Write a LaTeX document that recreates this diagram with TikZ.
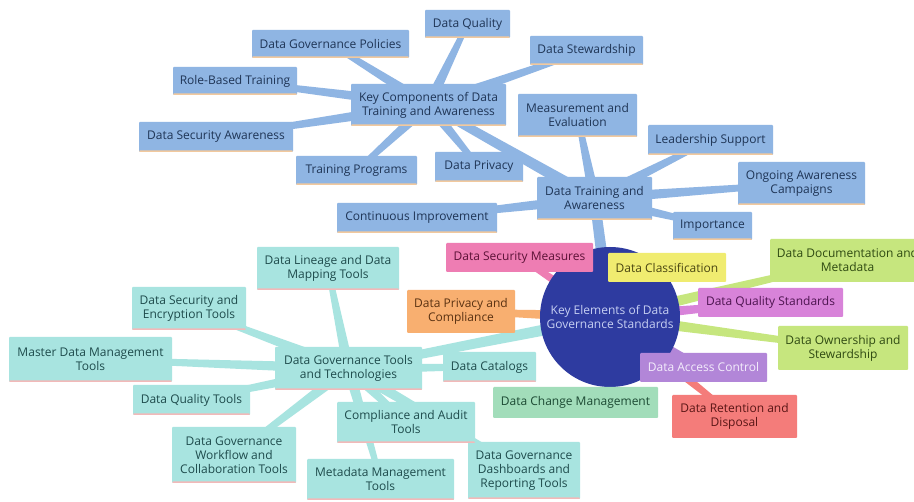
\documentclass[tikz,border=0pt]{standalone}
\usepackage{fontspec}
\setmainfont{Open Sans}
\usetikzlibrary{calc,backgrounds}
\definecolor{bluefill}{HTML}{8FB5E3}
\definecolor{bluetext}{HTML}{1F3556}
\definecolor{peach}{HTML}{F2C99E}
\definecolor{cyanfill}{HTML}{A8E4E0}
\definecolor{cyantext}{HTML}{1E4B4C}
\definecolor{cyanline}{HTML}{F2B9B9}
\definecolor{pinkfill}{HTML}{EE7DB3}
\definecolor{pinktext}{HTML}{5C1237}
\definecolor{yellowfill}{HTML}{F0EC70}
\definecolor{yellowtext}{HTML}{4A4612}
\definecolor{greenfill}{HTML}{C6E67E}
\definecolor{greentext}{HTML}{2F4A12}
\definecolor{orchidfill}{HTML}{D883D9}
\definecolor{orchidtext}{HTML}{4D1450}
\definecolor{purplefill}{HTML}{B286D8}
\definecolor{purpletext}{HTML}{F3ECFB}
\definecolor{salmonfill}{HTML}{F47C7A}
\definecolor{salmontext}{HTML}{5A1616}
\definecolor{mintfill}{HTML}{A2DDBA}
\definecolor{minttext}{HTML}{1C4A33}
\definecolor{orangefill}{HTML}{F8AF70}
\definecolor{orangetext}{HTML}{5A3212}
\definecolor{circlefill}{HTML}{2E3BA0}
\definecolor{circletext}{HTML}{C6CFF2}
\newcommand\tlink[5]{%
  \fill[#1] let \p1=(#2.center), \p2=(#3.center), \n1={atan2(\y2-\y1,\x2-\x1)} in
    ($(\p1)+(\n1+90:#4)$) -- ($(\p2)+(\n1+90:#5)$) -- ($(\p2)+(\n1-90:#5)$) -- ($(\p1)+(\n1-90:#4)$) -- cycle;}
\tikzset{
  sz/.style 2 args={minimum width=#1pt, minimum height=#2pt},
  mapbox/.style={rectangle, rounded corners=1pt, inner sep=0pt, align=center,
    font=\fontsize{12}{14}\selectfont},
  botline/.style={path picture={\fill[#1] (path picture bounding box.south west) rectangle ([yshift=1.5pt]path picture bounding box.south east);}},
  bbox/.style={mapbox, fill=bluefill, text=bluetext, botline=peach},
  cbox/.style={mapbox, fill=cyanfill, text=cyantext, botline=cyanline},
  pinkbox/.style={mapbox, fill=pinkfill, text=pinktext},
  yellowbox/.style={mapbox, fill=yellowfill, text=yellowtext},
  greenbox/.style={mapbox, fill=greenfill, text=greentext},
  orchidbox/.style={mapbox, fill=orchidfill, text=orchidtext},
  purplebox/.style={mapbox, fill=purplefill, text=purpletext},
  salmonbox/.style={mapbox, fill=salmonfill, text=salmontext},
  mintbox/.style={mapbox, fill=mintfill, text=minttext},
  orangebox/.style={mapbox, fill=orangefill, text=orangetext},
}
\begin{document}
\begin{tikzpicture}[x=1pt, y=-1pt]
\path[use as bounding box, clip] (0,0) rectangle (914,502);
% root circle
\node[circle, fill=circlefill, text=circletext, minimum size=140pt, inner sep=0pt, align=center,
  font=\fontsize{12}{14}\selectfont] (kes) at (610,317) {Key Elements of Data\\Governance Standards};
% blue branch
\node[bbox, sz={85}{28}] (dq) at (467.5,24) {Data Quality};
\node[bbox, sz={157}{28}] (dgp) at (330.5,44) {Data Governance Policies};
\node[bbox, sz={113}{29}] (ds) at (586.5,50.5) {Data Stewardship};
\node[bbox, sz={124}{28}] (rbt) at (235,81) {Role-Based Training};
\node[bbox, sz={155}{42}] (kc) at (428.5,105) {Key Components of Data\\Training and Awareness};
\node[bbox, sz={119}{43}] (me) at (577.5,115.5) {Measurement and\\Evaluation};
\node[bbox, sz={154}{30}] (dsa) at (216,137) {Data Security Awareness};
\node[bbox, sz={121}{29}] (tp) at (356.5,170.5) {Training Programs};
\node[bbox, sz={88}{30}] (dp) at (479,167) {Data Privacy};
\node[bbox, sz={125}{30}] (ls) at (710.5,140) {Leadership Support};
\node[bbox, sz={115}{43}] (dta) at (594.5,198.5) {Data Training and\\Awareness};
\node[bbox, sz={127}{43}] (oac) at (801.5,183.5) {Ongoing Awareness\\Campaigns};
\node[bbox, sz={160}{30}] (ci) at (417,218) {Continuous Improvement};
\node[bbox, sz={79}{28}] (imp) at (712.5,226) {Importance};
% coloured leaves
\node[pinkbox, sz={147}{29}] (dsm) at (519.5,257.5) {Data Security Measures};
\node[yellowbox, sz={118}{29}] (dcl) at (667,267.5) {Data Classification};
\node[greenbox, sz={155}{43}] (ddm) at (847.5,260.5) {Data Documentation and\\Metadata};
\node[orchidbox, sz={145}{29}] (dqs) at (770.5,302.5) {Data Quality Standards};
\node[orangebox, sz={108}{43}] (dpc) at (461,311.5) {Data Privacy and\\Compliance};
\node[greenbox, sz={130}{44}] (dos) at (843,348) {Data Ownership and\\Stewardship};
\node[purplebox, sz={127}{29}] (dac) at (703.5,367.5) {Data Access Control};
\node[mintbox, sz={165}{31}] (dcm) at (575.5,402.5) {Data Change Management};
\node[salmonbox, sz={125}{43}] (drd) at (734.5,416.5) {Data Retention and\\Disposal};
\coordinate (dcmtop) at ($(dcm.north -| kes.center)+(0,3)$);
% cyan branch
\node[cbox, sz={93}{30}] (dcat) at (489.5,367) {Data Catalogs};
\node[cbox, sz={112}{57}] (dgd) at (524,470.5) {Data Governance\\Dashboards and\\Reporting Tools};
\node[cbox, sz={142}{43}] (dlt) at (328,268.5) {Data Lineage and Data\\Mapping Tools};
\node[cbox, sz={114}{43}] (dset) at (189,308.5) {Data Security and\\Encryption Tools};
\node[cbox, sz={163}{45}] (mdm) at (90.5,359.5) {Master Data Management\\Tools};
\node[cbox, sz={147}{43}] (dgtt) at (348.5,368.5) {Data Governance Tools\\and Technologies};
\node[cbox, sz={117}{30}] (dqt) at (191.5,400) {Data Quality Tools};
\node[cbox, sz={138}{41}] (cat) at (406,422.5) {Compliance and Audit\\Tools};
\node[cbox, sz={124}{56}] (dgw) at (234,455) {Data Governance\\Workflow and\\Collaboration Tools};
\node[cbox, sz={147}{41}] (mmt) at (380.5,479.5) {Metadata Management\\Tools};
% connectors
\begin{pgfonlayer}{background}
\fill[white] (0,0) rectangle (914,502);
\tlink{bluefill}{kes}{dta}{6pt}{5pt}
\tlink{bluefill}{dta}{kc}{6pt}{4pt}
\foreach \c in {me,ls,oac,imp,ci}{\tlink{bluefill}{dta}{\c}{5.5pt}{2.5pt}}
\foreach \c in {dq,dgp,ds,rbt,dsa,tp,dp}{\tlink{bluefill}{kc}{\c}{5.5pt}{2.5pt}}
\tlink{cyanfill}{kes}{dgtt}{6pt}{4pt}
\foreach \c in {dcat,dgd,dlt,dset,mdm,dqt,cat,dgw,mmt}{\tlink{cyanfill}{dgtt}{\c}{5.5pt}{2.5pt}}
\tlink{pinkfill}{kes}{dsm}{6pt}{2.5pt}
\tlink{yellowfill}{kes}{dcl}{6pt}{2.5pt}
\tlink{greenfill}{kes}{ddm}{6pt}{2.5pt}
\tlink{orchidfill}{kes}{dqs}{6pt}{2.5pt}
\tlink{orangefill}{kes}{dpc}{6pt}{2.5pt}
\tlink{greenfill}{kes}{dos}{6pt}{2.5pt}
\tlink{purplefill}{kes}{dac}{6pt}{2.5pt}
\tlink{mintfill}{kes}{dcmtop}{6pt}{2.5pt}
\tlink{salmonfill}{kes}{drd}{6pt}{2.5pt}
\end{pgfonlayer}
\end{tikzpicture}
\end{document}
